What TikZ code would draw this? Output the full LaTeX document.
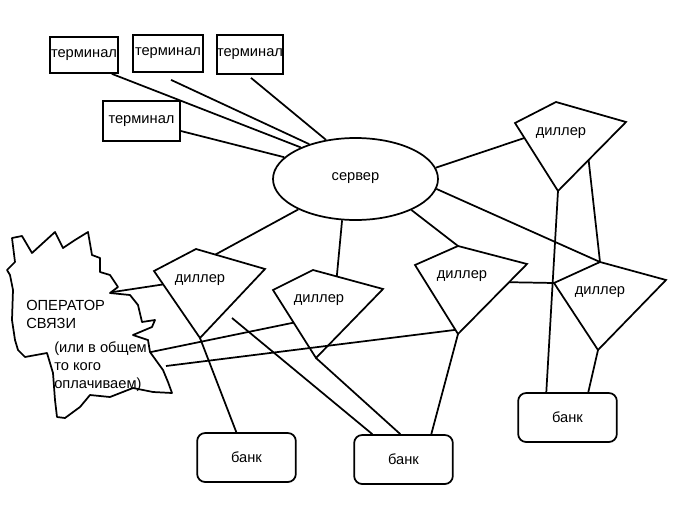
\documentclass[tikz,border=0pt]{standalone}
\usepackage{fontspec}
\setmainfont{Liberation Sans}
\usetikzlibrary{positioning,calc,shapes.geometric}

\begin{document}
\begin{tikzpicture}[
    x=0.75pt, y=-0.75pt,
    % --- global styles ---
    plain text/.style={font=\fontsize{11}{13.5}\selectfont, inner sep=0pt},
    term box/.style={draw, line width=1.3pt, rectangle, inner sep=0pt, font=\fontsize{11}{13.5}\selectfont},
    bank box/.style={draw, line width=1.3pt, rectangle, rounded corners=6pt, minimum width=74pt, minimum height=36.75pt, font=\fontsize{11}{13.5}\selectfont},
    % outline of a dealer (kite shape)
    dealer line/.style={line width=1.3pt, line join=miter},
    % plain connector
    link/.style={line width=1.3pt}
]
    \useasboundingbox (0,0) rectangle (700,525);

    % --- 1. terminals and server ---
    \node[term box, minimum width=51pt, minimum height=27pt] (t1) at (84,55) {терминал};
    \node[term box, minimum width=52.5pt, minimum height=27.75pt] (t2) at (168,53.5) {терминал};
    \node[term box, minimum width=48pt, minimum height=29.25pt] (t3) at (250,54.5) {терминал};
    \node[term box, minimum width=57.75pt, minimum height=30pt] (t4) at (141.5,121) {терминал};

    \node[draw, ellipse, line width=1.3pt, minimum width=123.75pt, minimum height=61.5pt, inner sep=0pt,
          font=\fontsize{11}{13.5}\selectfont] (srv) at (355.5,179) {\raisebox{3pt}{сервер}};

    % --- 2. dealers (four corners each, text in the middle) ---
    \coordinate (d1l) at (154,271); \coordinate (d1t) at (196,249);
    \coordinate (d1r) at (265,269); \coordinate (d1b) at (200,338);
    \coordinate (d2l) at (273,290); \coordinate (d2t) at (313,270);
    \coordinate (d2r) at (383,289); \coordinate (d2b) at (316,358);
    \coordinate (d3l) at (415,265); \coordinate (d3t) at (458,246);
    \coordinate (d3r) at (527,264); \coordinate (d3b) at (458,334);
    \coordinate (d4l) at (515,123); \coordinate (d4t) at (556,102);
    \coordinate (d4r) at (626,122); \coordinate (d4b) at (558,191);
    \coordinate (d5l) at (554,283); \coordinate (d5t) at (600,262);
    \coordinate (d5r) at (666,280); \coordinate (d5b) at (598,350);

    \foreach \d in {d1,d2,d3,d4,d5}
        \draw[dealer line] (\d l) -- (\d t) -- (\d r) -- (\d b) -- cycle;

    \node[plain text] (d1txt) at (200,280) {диллер};
    \node[plain text] (d2txt) at (319,300) {диллер};
    \node[plain text] (d3txt) at (462,276) {диллер};
    \node[plain text] (d4txt) at (561,133) {диллер};
    \node[plain text] (d5txt) at (600,292) {диллер};

    % --- 3. banks ---
    \node[bank box] (b1) at (246.5,457.5) {банк\hspace{8pt}};
    \node[bank box] (b2) at (403.5,459.5) {банк\hspace{8pt}};
    \node[bank box] (b3) at (567.5,417.5) {банк\hspace{8pt}};

    % --- 4. operator cloud ---
    \draw[line width=1.3pt, line join=round]
        (12,238) -- (22,236) -- (32,253) -- (55,232) -- (63,248) -- (75,240)
        -- (88,232) -- (92,255) -- (100,258) -- (100,272) -- (110,275)
        -- (118,287) -- (110,293) -- (130,295) -- (138,305) -- (142,322)
        -- (155,320) -- (152,327) -- (133,335) -- (148,340) -- (150,352)
        -- (163,370) -- (168,382) -- (172,393) -- (153,392) -- (133,388)
        -- (110,397) -- (90,395) -- (80,407) -- (65,418) -- (57,417)
        -- (55,400) -- (53,373) -- (47,353) -- (25,357) -- (18,350)
        -- (15,340) -- (12,320) -- (13,290) -- (10,275) -- (7,270)
        -- (15,262) -- cycle;
    \node[plain text, anchor=west, align=left] (op) at (26,314) {ОПЕРАТОР\\СВЯЗИ};
    \node[plain text, anchor=west, align=left] (opnote) at (54,367) {(или в общем\\то кого\\оплачиваем)};

    % [points where the cloud lines start]
    \coordinate (cl1) at (113,292);
    \coordinate (cl2) at (151,352);
    \coordinate (cl3) at (166,366);
    % [line that starts in the open]
    \coordinate (loose_end) at (232,318);

    % --- 5. connectors ---
    % terminals -> server
    \draw[link] ($(t1.south east)+(-7,0)$) -- (srv.150);
    \draw[link] ($(t2.south)+(3,7)$) -- (srv.143);
    \draw[link] ($(t3.south)+(1,3)$) -- (srv.127);
    \draw[link] ($(t4.east)+(0,10)$) -- (srv.163);

    % server -> dealers
    \draw[link] (srv.208) -- ($(d1t)!0.28!(d1r)$);
    \draw[link] (srv.252) -- ($(d2t)!0.34!(d2r)$);
    \draw[link] (srv.331) -- (d3t);
    \draw[link] (srv.8) -- ($(d4l)!0.22!(d4b)$);
    \draw[link] (srv.353) -- (d5t);

    % operator -> dealers
    \draw[link] (cl1) -- ($(d1l)!0.2!(d1b)$);
    \draw[link] (cl2) -- ($(d2l)!0.48!(d2b)$);
    \draw[link] (cl3) -- ($(d3l)!0.94!(d3b)$);

    % dealers among themselves
    \draw[link] ($(d3r)!0.26!(d3b)$) -- (d5l);
    \draw[link] ($(d4r)!0.55!(d4b)$) -- (d5t);

    % dealers -> banks
    \draw[link] (d1b) -- ($(b1.north west)+(40,0)$);
    \draw[link] (d2b) -- ($(b2.north west)+(47,0)$);
    \draw[link] (d3b) -- ($(b2.north west)+(78,0)$);
    \draw[link] (loose_end) -- ($(b2.north west)+(19,0)$);
    \draw[link] (d4b) -- ($(b3.north west)+(29,0)$);
    \draw[link] (d5b) -- ($(b3.north west)+(71,0)$);

\end{tikzpicture}
\end{document}
